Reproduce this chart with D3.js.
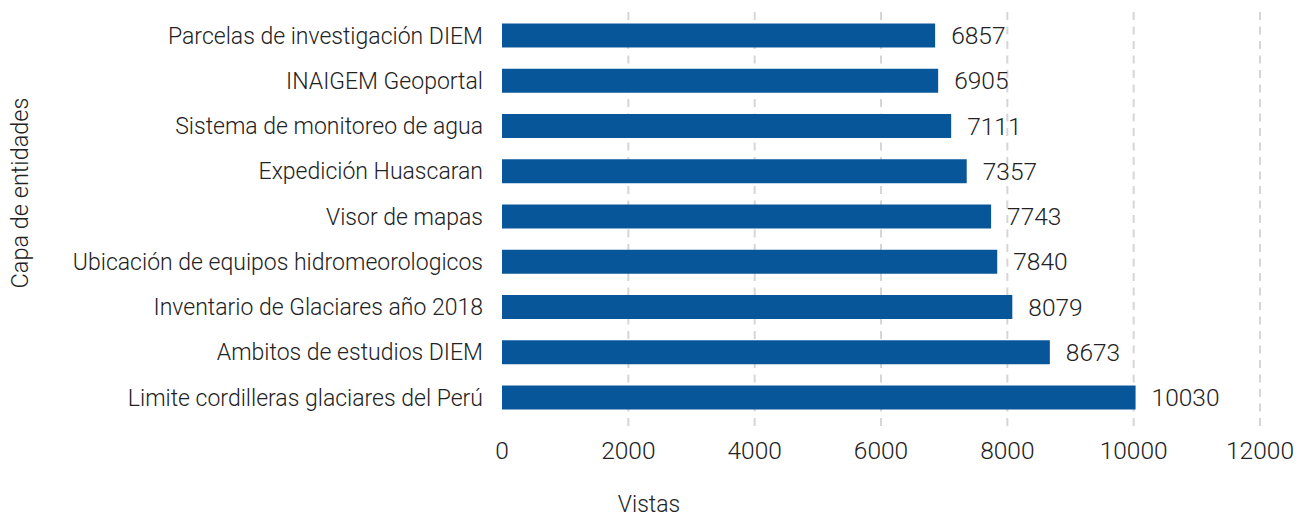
<!DOCTYPE html>
<html>
<head>
<meta charset="utf-8">
<script src="https://cdn.jsdelivr.net/npm/d3@7"></script>
<style>
  body { margin: 0; background: #fff; }
  text { font-family: Roboto, sans-serif; font-weight: 300; fill: #222; }
</style>
</head>
<body>
<script>
// data
var categories = [
  "Parcelas de investigación DIEM",
  "INAIGEM Geoportal",
  "Sistema de monitoreo de agua",
  "Expedición Huascaran",
  "Visor de mapas",
  "Ubicación de equipos hidromeorologicos",
  "Inventario de Glaciares año 2018",
  "Ambitos de estudios DIEM",
  "Limite cordilleras glaciares del Perú"
];
var views = [6857, 6905, 7111, 7357, 7743, 7840, 8079, 8673, 10030];
var xTicks = [0, 2000, 4000, 6000, 8000, 10000, 12000];

var width = 1306,
    height = 519;

var svg = d3.select("body").append("svg")
    .attr("width", width)
    .attr("height", height);

var x = d3.scaleLinear().domain([0, 12000]).range([502, 1260]);
var y = d3.scaleBand().domain(categories).range([23.5, 409.5])
    .paddingInner(0.47).paddingOuter(0);

// dashed grid lines
svg.append("g")
  .selectAll("line")
  .data(xTicks.filter(function(d) { return d > 0; }))
  .enter().append("line")
    .attr("x1", function(d) { return x(d); })
    .attr("x2", function(d) { return x(d); })
    .attr("y1", 12)
    .attr("y2", 431)
    .attr("stroke", "#d6d6d6")
    .attr("stroke-width", 2)
    .attr("stroke-dasharray", "8,6.5");

// bars
svg.append("g")
  .selectAll("rect")
  .data(views)
  .enter().append("rect")
    .attr("x", x(0))
    .attr("y", function(d, i) { return y(categories[i]); })
    .attr("width", function(d) { return x(d) - x(0); })
    .attr("height", y.bandwidth())
    .attr("fill", "#08569a");

// value labels
svg.append("g")
  .selectAll("text")
  .data(views)
  .enter().append("text")
    .attr("x", function(d) { return x(d) + 16; })
    .attr("y", function(d, i) { return y(categories[i]) + y.bandwidth() / 2; })
    .attr("dy", "0.35em")
    .style("font-size", "24.5px")
    .text(function(d) { return d; });

// category labels
svg.append("g")
  .selectAll("text")
  .data(categories)
  .enter().append("text")
    .attr("x", 483)
    .attr("y", function(d) { return y(d) + y.bandwidth() / 2; })
    .attr("dy", "0.35em")
    .attr("text-anchor", "end")
    .style("font-size", "23px")
    .text(function(d) { return d; });

// x tick labels
svg.append("g")
  .selectAll("text")
  .data(xTicks)
  .enter().append("text")
    .attr("x", function(d) { return x(d); })
    .attr("y", 450)
    .attr("dy", "0.35em")
    .attr("text-anchor", "middle")
    .style("font-size", "24.5px")
    .text(function(d) { return d; });

// axis titles
svg.append("text")
    .attr("x", 649)
    .attr("y", 504)
    .attr("dy", "0.35em")
    .attr("text-anchor", "middle")
    .style("font-size", "23px")
    .text("Vistas");

svg.append("text")
    .attr("transform", "translate(20,193) rotate(-90)")
    .attr("dy", "0.35em")
    .attr("text-anchor", "middle")
    .style("font-size", "23.5px")
    .text("Capa de entidades");
</script>
</body>
</html>
